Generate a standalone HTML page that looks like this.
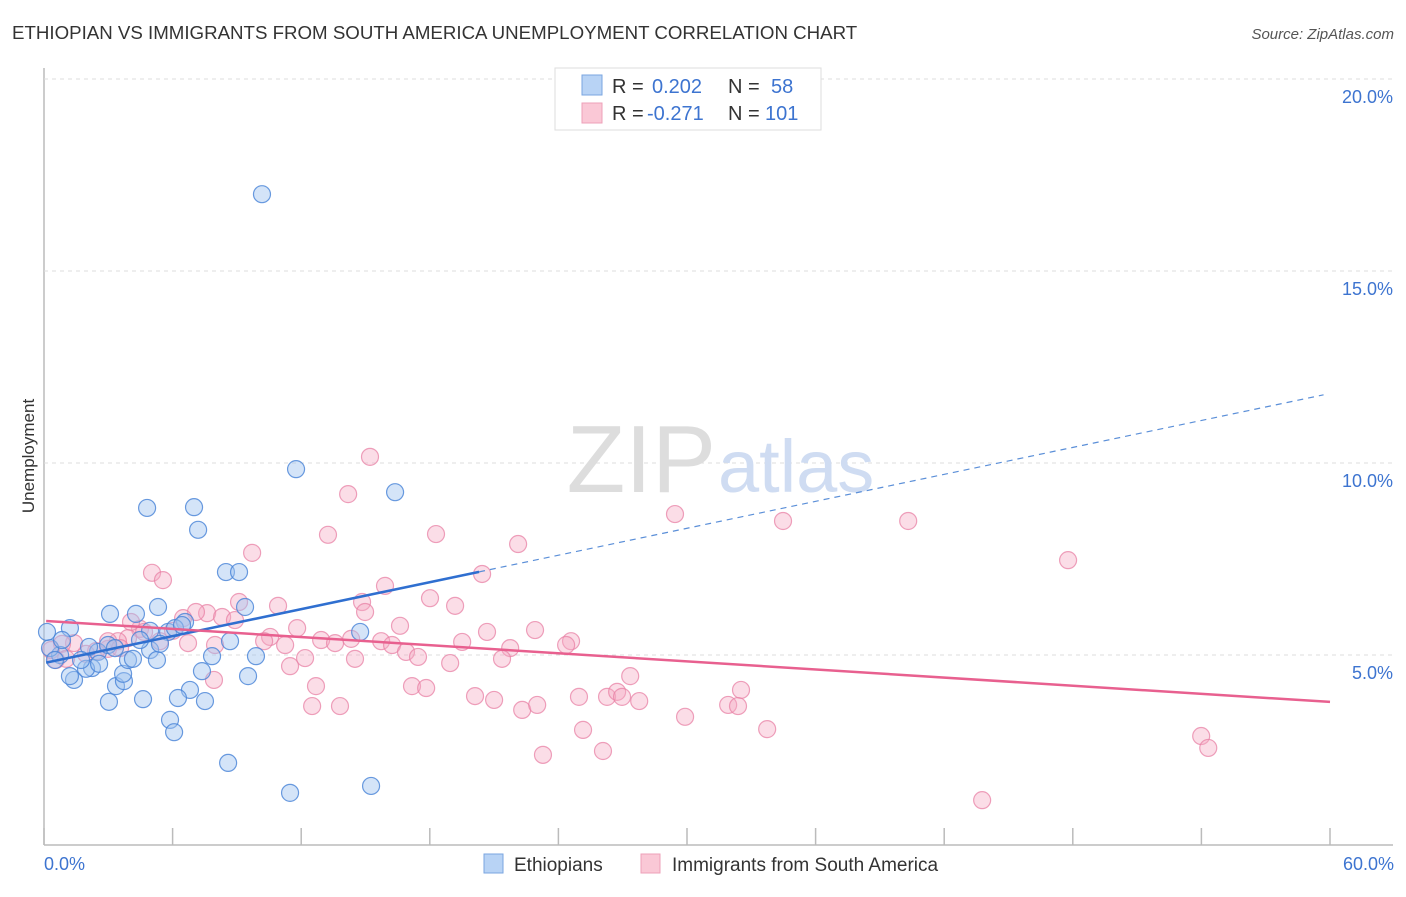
<!DOCTYPE html>
<html><head><meta charset="utf-8"><style>
body{margin:0;background:#fff;font-family:"Liberation Sans",sans-serif;}
svg text{font-family:"Liberation Sans",sans-serif;}
</style></head><body>
<svg id="chart" width="1406" height="892">
<text x="12" y="39" font-size="18.7" fill="#333">ETHIOPIAN VS IMMIGRANTS FROM SOUTH AMERICA UNEMPLOYMENT CORRELATION CHART</text>
<text x="1394" y="39" font-size="15" font-style="italic" fill="#555" text-anchor="end">Source: ZipAtlas.com</text>
<text x="34" y="456" font-size="17" fill="#333" text-anchor="middle" transform="rotate(-90 34 456)">Unemployment</text>
<g id="grid"></g>
<text x="716" y="492" font-size="96" font-family="Liberation Serif" fill="#ddd" text-anchor="end">ZIP</text>
<text x="718" y="492" font-size="74" fill="#cfdcf2">atlas</text>
<g id="points"></g>
<g id="lines"></g>
<g>
<rect x="555" y="68" width="266" height="62" fill="#fff" stroke="#ddd"/>
<rect x="582" y="75" width="20" height="20" fill="#b8d3f5" stroke="#7aa6e0"/>
<rect x="582" y="103" width="20" height="20" fill="#fac8d6" stroke="#eea0b8"/>
<text x="612" y="93" font-size="20" fill="#333">R = </text><text x="652" y="93" font-size="20" fill="#3d74d0">0.202</text>
<text x="728" y="93" font-size="20" fill="#333">N = </text><text x="771" y="93" font-size="20" fill="#3d74d0">58</text>
<text x="612" y="120" font-size="20" fill="#333">R = </text><text x="647" y="120" font-size="20" fill="#3d74d0">-0.271</text>
<text x="728" y="120" font-size="20" fill="#333">N = </text><text x="765" y="120" font-size="20" fill="#3d74d0">101</text>
</g>
<text x="44" y="870" font-size="18" fill="#3d74d0">0.0%</text>
<text x="1394" y="870" font-size="18" fill="#3d74d0" text-anchor="end">60.0%</text>
<g><rect x="484" y="854" width="19" height="19" fill="#b8d3f5" stroke="#7aa6e0"/><text x="514" y="871" font-size="19" fill="#333">Ethiopians</text></g>
<g><rect x="641" y="854" width="19" height="19" fill="#fac8d6" stroke="#eea0b8"/><text x="672" y="871" font-size="19" fill="#333">Immigrants from South America</text></g>
</svg>
<script>
const yTicks=[5,10,15,20];
const yTickLabels=["5.0%","10.0%","15.0%","20.0%"];
const xTicks=[0,6,12,18,24,30,36,42,48,54,60];
const ethX=[10.17,11.76,16.38,4.81,7.0,7.19,8.49,9.1,9.38,5.32,4.29,3.08,6.58,5.79,14.75,8.68,7.84,9.89,9.52,7.37,6.81,6.25,7.51,4.62,3.03,3.36,3.73,3.69,5.88,6.07,8.59,11.48,15.26,4.95,5.27,3.92,4.15,2.52,2.1,2.24,1.4,1.21,1.96,2.57,1.73,0.75,0.28,0.14,1.21,0.84,0.51,4.95,5.41,4.48,6.11,6.44,2.99,3.31];
const ethY=[17.0,9.84,9.24,8.83,8.85,8.26,7.16,7.16,6.25,6.25,6.07,6.07,5.86,5.6,5.6,5.36,4.97,4.97,4.45,4.58,4.09,3.88,3.8,3.85,3.78,4.19,4.32,4.51,3.31,2.99,2.19,1.41,1.59,5.13,4.87,4.87,4.9,5.08,5.21,4.66,4.35,4.45,4.64,4.77,4.87,5.0,5.18,5.6,5.7,5.39,4.87,5.63,5.29,5.39,5.7,5.78,5.26,5.18];
const immX=[15.21,14.19,13.25,18.29,22.12,9.71,5.04,5.55,15.91,20.44,29.44,34.48,40.32,47.78,18.01,19.18,14.84,14.98,10.92,9.1,7.61,7.09,8.31,8.91,6.49,6.02,4.48,3.92,3.45,10.55,11.81,10.27,12.93,13.58,14.33,16.61,15.73,16.24,16.89,17.45,19.51,20.67,21.75,22.91,24.59,24.36,18.95,21.37,14.51,12.18,11.48,11.25,7.98,6.72,5.41,2.99,2.43,1.96,1.4,0.84,0.56,0.33,1.03,27.35,12.69,17.17,17.83,20.11,21.0,22.31,23.01,24.96,26.27,26.74,26.97,27.77,32.52,31.92,32.38,29.91,25.15,33.74,23.28,26.08,12.51,13.81,7.93,53.99,54.32,43.77,4.06,4.67,2.99,3.55];
const immY=[10.16,9.19,8.13,8.15,7.89,7.66,7.14,6.95,6.8,7.11,8.67,8.49,8.49,7.47,6.48,6.28,6.38,6.12,6.28,6.38,6.09,6.12,5.99,5.91,5.96,5.63,5.68,5.44,5.36,5.47,5.7,5.36,5.39,5.31,5.42,5.76,5.36,5.26,5.08,4.95,5.34,5.6,5.18,5.65,5.36,5.26,4.79,4.9,4.9,4.92,4.71,5.26,5.26,5.31,5.36,5.16,5.1,5.03,5.31,5.29,4.87,5.13,4.9,4.45,4.19,4.19,4.14,3.93,3.83,3.57,3.7,3.91,3.91,4.04,3.91,3.8,4.09,3.7,3.67,3.39,3.05,3.07,2.4,2.5,3.67,3.67,4.35,2.89,2.58,1.22,5.86,5.6,5.36,5.18];
const ethTrend=[4.79,0.117];
const immTrend=[5.89,-0.0352];
const ethSolidEnd=20.3, ethDashEnd=59.7;
const NS="http://www.w3.org/2000/svg";
const X0=44,X1=1330,Y0=847,PPY=38.4;
function sx(v){return X0+(X1-X0)*v/60;}
function sy(v){return Y0-v*PPY;}
function mk(tag,attrs,parent){const e=document.createElementNS(NS,tag);for(const k in attrs)e.setAttribute(k,attrs[k]);parent.appendChild(e);return e;}
const grid=document.getElementById('grid');
mk('line',{x1:44,y1:68,x2:44,y2:845,stroke:'#bbb','stroke-width':1.5},grid);
mk('line',{x1:44,y1:845,x2:1393,y2:845,stroke:'#bbb','stroke-width':1.5},grid);
yTicks.forEach((t,i)=>{
 const l=mk('line',{x1:44,y1:sy(t),x2:1393,y2:sy(t),stroke:'#ddd','stroke-dasharray':'4,4'},grid);
 
 
 const tx=mk('text',{x:1393,y:sy(t)+24,'font-size':18,fill:'#3d74d0','text-anchor':'end'},grid);
 tx.textContent=yTickLabels[i];
 
 
});
xTicks.forEach(t=>{
 const l=mk('line',{x1:sx(t),y1:828,x2:sx(t),y2:845,stroke:'#bbb','stroke-width':1.5},grid);
 
 
});
const pts=document.getElementById('points');
immX.forEach((x,i)=>{
 const c=mk('circle',{cx:sx(x),cy:sy(immY[i]),r:8.5,fill:'rgba(245,170,195,0.4)',stroke:'rgba(232,130,165,0.75)','stroke-width':1.2},pts);
 
 
});
ethX.forEach((x,i)=>{
 const c=mk('circle',{cx:sx(x),cy:sy(ethY[i]),r:8.5,fill:'rgba(160,195,240,0.45)',stroke:'rgba(70,130,215,0.8)','stroke-width':1.2},pts);
 
 
});
const lines=document.getElementById('lines');
const eS=mk('line',{x1:sx(0.1),y1:sy(ethTrend[0]+ethTrend[1]*0.1),x2:sx(ethSolidEnd),y2:sy(ethTrend[0]+ethTrend[1]*ethSolidEnd),stroke:'#2f6fd0','stroke-width':2.5},lines);


const eD=mk('line',{x1:sx(ethSolidEnd),y1:sy(ethTrend[0]+ethTrend[1]*ethSolidEnd),x2:sx(ethDashEnd),y2:sy(ethTrend[0]+ethTrend[1]*ethDashEnd),stroke:'#5b8fd8','stroke-width':1.2,'stroke-dasharray':'6,5'},lines);


const iL=mk('line',{x1:sx(0.1),y1:sy(immTrend[0]+immTrend[1]*0.1),x2:sx(60),y2:sy(immTrend[0]+immTrend[1]*60),stroke:'#e8608f','stroke-width':2.5},lines);


</script>
</body></html>
